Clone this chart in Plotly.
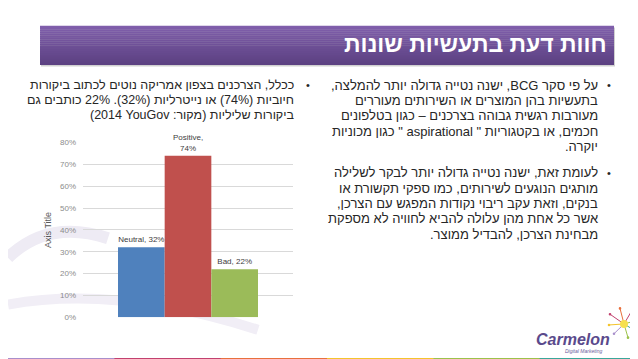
import plotly.graph_objects as go

# ---------------- data ----------------
categories = ["Neutral", "Positive", "Bad"]
values = [32, 74, 22]                      # percent
label_separators = [" ", "<br>", " "]
bar_colors = ["#4F81BD", "#C0504D", "#9BBB59"]
y_axis_title = "Axis Title"

title_text = "חוות דעת בתעשיות שונות"

left_lines = [
    "ככלל, הצרכנים בצפון אמריקה נוטים לכתוב ביקורות",
    "חיוביות (74%) או נייטרליות (32%). 22% כותבים גם",
    "ביקורות שליליות (מקור: YouGov\u200f 2014)",
]
right_bullet1 = [
    "על פי סקר BCG, ישנה נטייה גדולה יותר להמלצה,",
    "בתעשיות בהן המוצרים או השירותים מעוררים",
    "מעורבות רגשית גבוהה בצרכנים – כגון בטלפונים",
    "חכמים, או בקטגוריות \" aspirational \" כגון מכוניות",
    "יוקרה.",
]
right_bullet2 = [
    "לעומת זאת, ישנה נטייה גדולה יותר לבקר לשלילה",
    "מותגים הנוגעים לשירותים, כמו ספקי תקשורת או",
    "בנקים, וזאת עקב ריבוי נקודות המפגש עם הצרכן,",
    "אשר כל אחת מהן עלולה להביא לחוויה לא מספקת",
    "מבחינת הצרכן, להבדיל ממוצר.",
]
stripe_colors = ["#A88FCB", "#C2416F", "#E8703D", "#F4C42C", "#9CC24A", "#3AA79A"]

# ---------------- helpers ----------------
W, H = 638, 359
def fx(x):
    return x / W
def fy(y):
    return 1 - y / H
def rtl(s):
    return "\u202b" + s + "\u202c"

FONT = "Arial, 'Liberation Sans', 'DejaVu Sans', sans-serif"
TXT = "#262626"

fig = go.Figure()
for c, v, col, sep in zip(categories, values, bar_colors, label_separators):
    fig.add_trace(go.Bar(
        x=["reviews"], y=[v], name=c,
        marker=dict(color=col, line=dict(width=0)),
        text=[f"{c},{sep}{v}%"], textposition="outside",
        textfont=dict(size=8, color="#404040", family=FONT),
        cliponaxis=False, constraintext="none", hoverinfo="skip",
    ))

shapes = []
# background faint swooshes
shapes.append(dict(type="path", xref="paper", yref="paper", layer="below",
                   path=f"M {fx(0)} {fy(252)} Q {fx(40)} {fy(212)} {fx(100)} {fy(232)}",
                   line=dict(color="#EEEBF4", width=12)))
shapes.append(dict(type="path", xref="paper", yref="paper", layer="below",
                   path=f"M {fx(0)} {fy(300)} Q {fx(110)} {fy(280)} {fx(250)} {fy(326)}",
                   line=dict(color="#F1EEF6", width=10)))

# title banner with vertical gradient (strips) + shadow
top, bot, left, right = 14, 54, 32, 606
shapes.append(dict(type="rect", xref="paper", yref="paper",
                   x0=fx(left + 1), x1=fx(right + 1), y0=fy(bot + 2), y1=fy(top + 2),
                   fillcolor="rgba(120,120,120,0.35)", line=dict(width=0)))
n = 20
c_top = (128, 95, 171)
c_bot = (92, 65, 130)
for i in range(n):
    t = i / (n - 1)
    col = tuple(round(a + (b - a) * t) for a, b in zip(c_top, c_bot))
    y0 = top + (bot - top) * i / n
    y1 = top + (bot - top) * (i + 1) / n
    shapes.append(dict(type="rect", xref="paper", yref="paper",
                       x0=fx(left), x1=fx(right), y0=fy(y1 + 0.3), y1=fy(y0),
                       fillcolor=f"rgb{col}", line=dict(width=0)))

# bottom stripe
seg = W / len(stripe_colors)
for i, col in enumerate(stripe_colors):
    shapes.append(dict(type="rect", xref="paper", yref="paper",
                       x0=fx(i * seg), x1=fx((i + 1) * seg + 0.5), y0=fy(359), y1=fy(355),
                       fillcolor=col, line=dict(width=0)))

# logo starburst
cx, cy = 616, 320
rays = [(-14, -10, "#C2416F"), (-4, -16, "#E8703D"), (8, -14, "#C2416F"), (14, -4, "#9CC24A"),
        (13, 8, "#3AA79A"), (4, 14, "#9CC24A"), (-10, 10, "#A88FCB"), (-15, 1, "#F4C42C")]
for dx, dy, col in rays:
    shapes.append(dict(type="line", xref="paper", yref="paper",
                       x0=fx(cx), y0=fy(cy), x1=fx(cx + dx), y1=fy(cy + dy),
                       line=dict(color=col, width=1)))
    shapes.append(dict(type="circle", xref="paper", yref="paper",
                       x0=fx(cx + dx - 1.3), x1=fx(cx + dx + 1.3),
                       y0=fy(cy + dy + 1.3), y1=fy(cy + dy - 1.3),
                       fillcolor=col, line=dict(width=0)))
shapes.append(dict(type="circle", xref="paper", yref="paper",
                   x0=fx(cx - 4), x1=fx(cx + 4), y0=fy(cy + 4), y1=fy(cy - 4),
                   fillcolor="#F6E04E", line=dict(width=0)))

annotations = []
annotations.append(dict(text="<b>" + rtl(title_text) + "</b>", xref="paper", yref="paper",
                        x=fx(601), y=fy(33), xanchor="right", yanchor="middle",
                        showarrow=False, font=dict(family=FONT, size=23, color="white")))

def add_lines(lines, x_right, y_start, step, size):
    for i, s in enumerate(lines):
        annotations.append(dict(text=rtl(s), xref="paper", yref="paper",
                                x=fx(x_right), y=fy(y_start + i * step),
                                xanchor="right", yanchor="middle", showarrow=False,
                                font=dict(family=FONT, size=size, color=TXT)))

def add_bullet(x, y):
    annotations.append(dict(text="•", xref="paper", yref="paper", x=fx(x), y=fy(y),
                            xanchor="center", yanchor="middle", showarrow=False,
                            font=dict(family=FONT, size=11, color=TXT)))

add_lines(left_lines, 288, 75, 15.5, 12.5)
add_bullet(300, 75)
add_lines(right_bullet1, 592, 75, 15.7, 13)
add_bullet(601, 75)
add_lines(right_bullet2, 592, 165, 15.7, 13)
add_bullet(601, 165)

# logo text
annotations.append(dict(text="<b><i>Carmelon</i></b>", xref="paper", yref="paper",
                        x=fx(565), y=fy(336), xanchor="center", yanchor="middle",
                        showarrow=False, font=dict(family=FONT, size=16, color="#5A4A8C")))
annotations.append(dict(text="<i>Digital Marketing</i>", xref="paper", yref="paper",
                        x=fx(575), y=fy(348), xanchor="center", yanchor="middle",
                        showarrow=False, font=dict(family=FONT, size=5, color="#6A5A9C")))

fig.update_layout(
    width=W, height=H, margin=dict(l=0, r=0, t=0, b=0),
    paper_bgcolor="white", plot_bgcolor="rgba(0,0,0,0)",
    barmode="group", bargap=1/3, bargroupgap=0, showlegend=False,
    font=dict(family=FONT),
    xaxis=dict(domain=[fx(75), fx(285)], showticklabels=False, showgrid=False,
               zeroline=False, showline=False, ticks=""),
    yaxis=dict(domain=[fy(313), fy(134)], range=[0, 80], dtick=10, ticksuffix="%",
               showgrid=True, gridcolor="#D9D9D9", gridwidth=1, zeroline=False,
               showline=False, ticks="", ticklabelstandoff=6,
               tickfont=dict(size=8, color="#8C8C8C"),
               title=dict(text=y_axis_title, font=dict(size=9, color="#595959"), standoff=6)),
    shapes=shapes, annotations=annotations,
)

fig.write_html("out.html")
